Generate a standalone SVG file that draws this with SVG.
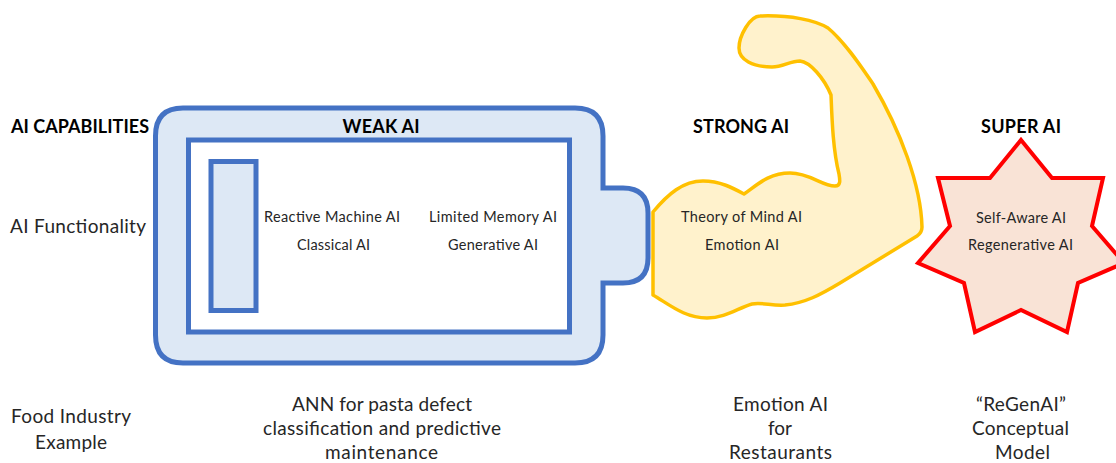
<svg xmlns="http://www.w3.org/2000/svg" width="1116" height="463" viewBox="0 0 1116 463">
<style>
text{font-family:Lato,"Noto Sans","Liberation Sans",sans-serif;fill:#262626}
.h{font-size:18px;font-weight:700;fill:#000}
.s{font-size:14.5px}
.b{font-size:19px}
.blue{fill:#dde8f5;stroke:#4472c4;stroke-width:5}
</style>
<rect width="1116" height="463" fill="#fff"/>
<g id="weak-ai">
<path class="blue" d="M183 108H575Q603 108 603 136V188H623Q648 188 648 213V258Q648 283 623 283H603V335Q603 363 575 363H183Q155.500 363 155.500 335V136Q155.500 108 183 108Z"/>
<rect x="188.500" y="140" width="381" height="192" fill="#fff" stroke="#4472c4" stroke-width="5"/>
<rect class="blue" x="211" y="161.500" width="45" height="149"/>
<text class="h" x="381" y="133" text-anchor="middle" textLength="77">WEAK AI</text>
<text class="s" x="332" y="222" text-anchor="middle" textLength="136">Reactive Machine AI</text>
<text class="s" x="333.500" y="250" text-anchor="middle" textLength="73">Classical AI</text>
<text class="s" x="493" y="222" text-anchor="middle" textLength="128">Limited Memory AI</text>
<text class="s" x="493" y="250" text-anchor="middle" textLength="90">Generative AI</text>
</g>
<g id="strong-ai">
<path fill="#fff2cc" stroke="#ffc000" stroke-width="3.500" stroke-linejoin="round" d="M653 212C668 194 683 181 703 181C720 181 733 188 744 194C756 186 768 173 790 173C810 173 822 186 835 186C841 186 840 180 839 174C833 150 832 120 831 95C824 78 810 62 800 61C790 61 783 67 772 67C753 67 739 60 739 48C739 36 750 16 760 16C790 15 815 20 828 28C845 42 862 68 873 84C900 130 921 185 922 227C922 232 920 234 917 236L840 283C820 295 805 303 785 305C772 306 762 302 752 304C738 308 725 318 707 318C685 318 670 305 653 295Z"/>
<text class="h" x="741" y="133" text-anchor="middle" textLength="96">STRONG AI</text>
<text class="s" x="741.500" y="222" text-anchor="middle" textLength="121">Theory of Mind AI</text>
<text class="s" x="742" y="250" text-anchor="middle" textLength="74">Emotion AI</text>
</g>
<g id="super-ai">
<path fill="#f9e3d6" stroke="#ff0000" stroke-width="4" d="M1021 140L1052 178H1103L1092 226L1124 263L1078 283L1067 332L1021 310L975 332L964 283L918 263L950 226L938 178H990Z"/>
<text class="h" x="1021" y="133" text-anchor="middle" textLength="80">SUPER AI</text>
<text class="s" x="1021" y="223" text-anchor="middle" textLength="90">Self-Aware AI</text>
<text class="s" x="1020.500" y="250" text-anchor="middle" textLength="105">Regenerative AI</text>
</g>
<g id="row-labels">
<text class="h" x="11" y="133" textLength="138">AI CAPABILITIES</text>
<text class="b" x="10" y="233" textLength="136">AI Functionality</text>
<text class="b" x="71" y="423" text-anchor="middle" textLength="120">Food Industry</text>
<text class="b" x="71" y="449" text-anchor="middle" textLength="72">Example</text>
</g>
<g id="examples">
<text class="b" x="382" y="411" text-anchor="middle" textLength="180">ANN for pasta defect</text>
<text class="b" x="382" y="435" text-anchor="middle" textLength="238">classification and predictive</text>
<text class="b" x="381.500" y="459" text-anchor="middle" textLength="113">maintenance</text>
<text class="b" x="780.500" y="411" text-anchor="middle" textLength="95">Emotion AI</text>
<text class="b" x="780" y="435" text-anchor="middle" textLength="24">for</text>
<text class="b" x="780.500" y="459" text-anchor="middle" textLength="103">Restaurants</text>
<text class="b" x="1021" y="411" text-anchor="middle" textLength="90">“ReGenAI”</text>
<text class="b" x="1020.500" y="435" text-anchor="middle" textLength="97">Conceptual</text>
<text class="b" x="1022.500" y="459" text-anchor="middle" textLength="55">Model</text>
</g>
</svg>
